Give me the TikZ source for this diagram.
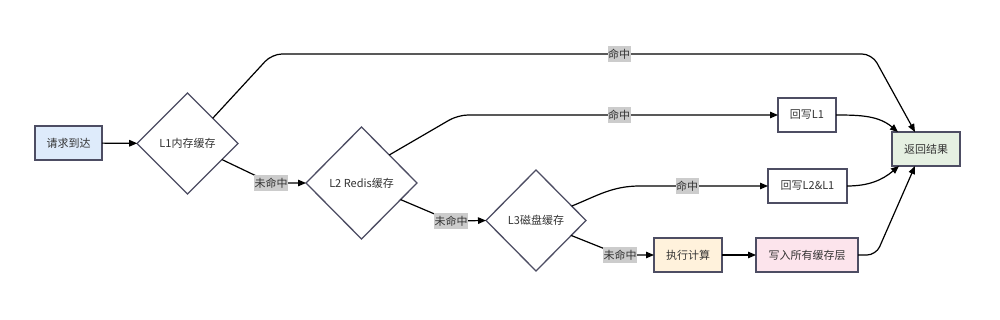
\documentclass[tikz,border=0pt]{standalone}
\usepackage{fontspec}
\setmainfont{Noto Sans CJK SC}
\usetikzlibrary{shapes.geometric,arrows.meta,calc}
\definecolor{stroke}{HTML}{4D4D63}
\definecolor{txt}{HTML}{333333}
\definecolor{fblue}{HTML}{DEEBFB}
\definecolor{fgreen}{HTML}{E5F0E2}
\definecolor{forange}{HTML}{FFF2DC}
\definecolor{fpink}{HTML}{FCE4EC}
\definecolor{lblbg}{HTML}{CCCCCC}
\begin{document}
\begin{tikzpicture}[x=1pt,y=-1pt,
  font=\fontsize{11}{13}\selectfont,
  box/.style={draw=stroke,line width=1.4pt,fill=white,text=txt,minimum height=34pt,inner sep=0pt,outer sep=0pt},
  dia/.style={diamond,draw=stroke,line width=1.3pt,fill=white,text=txt,aspect=1,inner sep=0pt,outer sep=0pt},
  conn/.style={draw=black,line width=1.2pt,-{Triangle[length=8pt,width=6.5pt]}},
  lbl/.style={fill=lblbg,text=txt,inner xsep=0.5pt,inner ysep=3pt}
]
\useasboundingbox (0,0) rectangle (1000,320);
% nodes
\node[box,fill=fblue,minimum width=67pt] (req) at (68.5,143) {请求到达};
\node[dia,minimum width=101pt,minimum height=101pt] (l1) at (187.5,143.5) {L1内存缓存};
\node[dia,minimum width=111pt,minimum height=112pt] (l2) at (361.5,183) {L2 Redis缓存};
\node[dia,minimum width=100pt,minimum height=101pt] (l3) at (536,220.5) {L3磁盘缓存};
\node[box,minimum width=58pt] (w1) at (807,115) {回写L1};
\node[box,minimum width=79pt] (w2) at (807.5,186) {回写L2\&L1};
\node[box,fill=fgreen,minimum width=68pt] (ret) at (926,149) {返回结果};
\node[box,fill=forange,minimum width=68pt] (calc) at (688,255) {执行计算};
\node[box,fill=fpink,minimum width=102pt] (wall) at (807,255) {写入所有缓存层};
% connectors
\draw[conn] (req) -- (l1);
\draw[conn,rounded corners=10pt] (l1.north east) -- (272,54) -- (872,54) -- ($(ret.north)+(-11,0)$);
\node[lbl] (lh1) at (619,54) {命中};
\draw[conn] (l1.-25) -- (271,183) -- (l2.west);
\node[lbl] (lm1) at (271,183) {未命中};
\draw[conn,rounded corners=10pt] (l2.north east) -- (458,115) -- (w1.west);
\node[lbl] (lh2) at (619,115) {命中};
\draw[conn] (l2.-23) -- (451,221) -- (l3.west);
\node[lbl] (lm2) at (451,221) {未命中};
\draw[conn] (l3.22) to[out=22,in=180] (640,186) -- (w2.west);
\node[lbl] (lh3) at (687,186) {命中};
\draw[conn] (l3.-23) -- (620,255) -- (calc.west);
\node[lbl] (lm3) at (620,255) {未命中};
\draw[conn] (calc) -- (wall);
\draw[conn] (w1.east) to[out=0,in=140] ($(ret.north west)+(6,0)$);
\draw[conn] (w2.east) to[out=0,in=220] ($(ret.south west)+(7,0)$);
\draw[conn,rounded corners=9pt] (wall.east) -- (876,255) -- ($(ret.south)+(-11,0)$);
\end{tikzpicture}
\end{document}
